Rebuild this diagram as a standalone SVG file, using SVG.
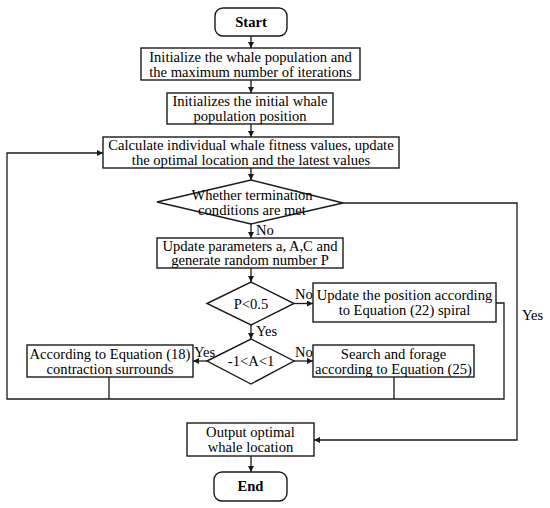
<svg xmlns="http://www.w3.org/2000/svg" width="550" height="508" viewBox="0 0 550 508">
<style>
.b{fill:#fff;stroke:#1a1a1a;stroke-width:1.4}
.c{fill:none;stroke:#1a1a1a;stroke-width:1.3}
text{font-family:"Liberation Serif","DejaVu Serif",serif;font-size:14.6px;fill:#000;text-anchor:middle}
.t{font-weight:bold}
.l{text-anchor:start}
</style>
<defs>
<marker id="a" markerWidth="8" markerHeight="8" refX="6" refY="3" orient="auto" markerUnits="userSpaceOnUse">
<path d="M0,0 L6,3 L0,6 Z" fill="#1a1a1a"/>
</marker>
</defs>
<rect width="550" height="508" fill="#fff"/>
<g id="connectors">
<line class="c" x1="251" y1="36" x2="251" y2="48" marker-end="url(#a)"/>
<line class="c" x1="251" y1="80" x2="251" y2="93" marker-end="url(#a)"/>
<line class="c" x1="251" y1="124" x2="251" y2="137" marker-end="url(#a)"/>
<line class="c" x1="251" y1="168" x2="251" y2="180" marker-end="url(#a)"/>
<line class="c" x1="251" y1="224" x2="251" y2="238" marker-end="url(#a)"/>
<line class="c" x1="251" y1="268" x2="251" y2="282" marker-end="url(#a)"/>
<line class="c" x1="294" y1="303.5" x2="313" y2="303.5" marker-end="url(#a)"/>
<line class="c" x1="251" y1="325" x2="251" y2="339" marker-end="url(#a)"/>
<line class="c" x1="207" y1="361" x2="193" y2="361" marker-end="url(#a)"/>
<line class="c" x1="294" y1="361" x2="313" y2="361" marker-end="url(#a)"/>
<polyline class="c" points="496,303 504,303 504,399 7,399 7,153 103,153" marker-end="url(#a)"/>
<line class="c" x1="109" y1="377" x2="109" y2="399"/>
<line class="c" x1="394" y1="377" x2="394" y2="399"/>
<polyline class="c" points="343,203 517,203 517,440 314,440" marker-end="url(#a)"/>
<line class="c" x1="251" y1="456" x2="251" y2="472" marker-end="url(#a)"/>
</g>
<g id="start"><rect class="b" x="215" y="8" width="72" height="28" rx="8"/><text class="t" x="251" y="27">Start</text></g>
<g id="init-pop"><rect class="b" x="141" y="48" width="219" height="32"/><text x="250.5" y="61.5">Initialize the whale population and</text><text x="250.5" y="76.5">the maximum number of iterations</text></g>
<g id="init-pos"><rect class="b" x="167" y="93" width="166" height="31"/><text x="250" y="105.5">Initializes the initial whale</text><text x="250" y="120.5">population position</text></g>
<g id="fitness"><rect class="b" x="103" y="137" width="296" height="31"/><text x="251" y="149.5">Calculate individual whale fitness values, update</text><text x="251" y="164.5">the optimal location and the latest values</text></g>
<g id="termination"><polygon class="b" points="157,202 251,180 343,203 251,224"/><text x="252" y="199.5">Whether termination</text><text x="252" y="214.5">conditions are met</text></g>
<g id="update-params"><rect class="b" x="157" y="238" width="186" height="30"/><text x="250" y="250.5">Update parameters a, A,C and</text><text x="250" y="265">generate random number P</text></g>
<g id="p-check"><polygon class="b" points="207,303.5 251,282 294,303.5 251,325"/><text x="251" y="308.5">P&lt;0.5</text></g>
<g id="spiral"><rect class="b" x="313" y="283" width="183" height="39"/><text x="404.5" y="299.5">Update the position according</text><text x="404.5" y="314.5">to Equation (22) spiral</text></g>
<g id="a-check"><polygon class="b" points="207,361 251,339 294,361 251,384"/><text x="251" y="366">-1&lt;A&lt;1</text></g>
<g id="contraction"><rect class="b" x="27" y="345" width="166" height="32"/><text x="110" y="358.5">According to Equation (18)</text><text x="110" y="373.5">contraction surrounds</text></g>
<g id="forage"><rect class="b" x="313" y="345" width="161" height="32"/><text x="393.5" y="358.5">Search and forage</text><text x="393.5" y="373.5">according to Equation (25)</text></g>
<g id="output"><rect class="b" x="187" y="423" width="127" height="33"/><text x="250.5" y="436.5">Output optimal</text><text x="250.5" y="451.5">whale location</text></g>
<g id="end"><rect class="b" x="214" y="472" width="73" height="29" rx="8"/><text class="t" x="250.5" y="491">End</text></g>
<g id="labels">
<text class="l" x="256" y="234.5">No</text>
<text class="l" x="295" y="298.5">No</text>
<text class="l" x="256" y="335.5">Yes</text>
<text class="l" x="194" y="357">Yes</text>
<text class="l" x="295" y="357">No</text>
<text class="l" x="522" y="319.5">Yes</text>
</g>
</svg>
